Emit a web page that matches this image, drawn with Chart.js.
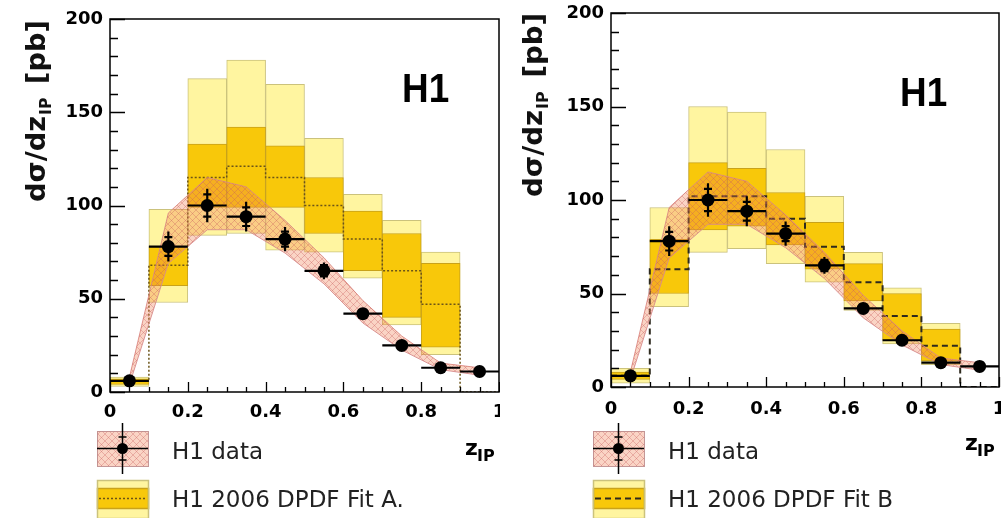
<!DOCTYPE html>
<html>
<head>
<meta charset="utf-8">
<script src="https://cdn.jsdelivr.net/npm/chart.js@4.4.1/dist/chart.umd.min.js"></script>
<style>
  html, body { margin: 0; padding: 0; background: #fff; }
  body { width: 1001px; height: 518px; position: relative; overflow: hidden; }
  canvas { position: absolute; top: 0; }
  #chartA { left: 0; }
  #chartB { left: 500px; }
</style>
</head>
<body>
<canvas id="chartA" width="500" height="518"></canvas>
<canvas id="chartB" width="501" height="518"></canvas>
<script>
// z_IP bins
const binCentres = [0.05, 0.15, 0.25, 0.35, 0.45, 0.55, 0.65, 0.75, 0.85, 0.95];
const binWidth = 0.1;
const xTicks = [0, 0.2, 0.4, 0.6, 0.8, 1];
const yTicks = [0, 50, 100, 150, 200];

// H1 data points, errors and hatched band
const dataY = [6, 78, 100, 94, 82, 65, 42, 25, 13, 11];
const dataErrTot = [1.5, 8, 9, 8, 6.5, 4.5, 3, 2, 2, 2.5];
const dataErrStat = [1, 5, 6, 5, 4, 3, 2, 1.5, 1.5, 2];
const bandHi = [8, 96, 115, 110, 92, 72, 49, 30, 15.5, 13];
const bandLo = [4, 69, 87, 87, 74.5, 58, 37, 22.5, 12, 9];

// H1 2006 DPDF Fit A
const fitAOuterLo = [3, 48, 84, 85, 76, 75, 61, 36, 20, null];
const fitAOuterHi = [8, 98, 168, 178, 165, 136, 106, 92, 75, null];
const fitAInnerLo = [4, 57, 99, 99, 99, 85, 65, 40, 24, null];
const fitAInnerHi = [7, 78, 133, 142, 132, 115, 97, 85, 69, null];
const fitACentral = [6, 68, 115, 121, 115, 100, 82, 65, 47, 0];

// H1 2006 DPDF Fit B
const fitBOuterLo = [2, 43, 72, 74, 66, 56, 41, 23, 12, null];
const fitBOuterHi = [10, 96, 150, 147, 127, 102, 72, 53, 34, null];
const fitBInnerLo = [4, 50, 84, 86, 76, 63, 46, 25, 14, null];
const fitBInnerHi = [8, 79, 120, 117, 104, 88, 66, 50, 31, null];
const fitBCentral = [6, 63, 102, 102, 90, 75, 56, 38, 22, 0];

const lightYellow = '#fff5a0';
const lightEdge = '#cbc27c';
const gold = '#f8c80a';
const goldEdge = '#c9a21a';

function hatchPattern(ctx) {
  const c = document.createElement('canvas');
  c.width = 7; c.height = 7;
  const p = c.getContext('2d');
  p.fillStyle = 'rgba(240,125,80,0.33)';
  p.fillRect(0, 0, 7, 7);
  p.strokeStyle = 'rgba(200,95,95,0.35)';
  p.lineWidth = 1;
  p.beginPath();
  p.moveTo(0, 0); p.lineTo(7, 7);
  p.moveTo(7, 0); p.lineTo(0, 7);
  p.stroke();
  return ctx.createPattern(c, 'repeat');
}

function floating(lo, hi) {
  return binCentres.map((x, i) => ({ x, y: [lo[i], hi[i]] })).filter(d => d.y[0] !== null);
}

// histogram outline: one point per bin low edge plus the last high edge
function stepLine(vals) {
  const pts = binCentres.map((x, i) => ({ x: x - binWidth / 2, y: vals[i] }));
  pts.push({ x: binCentres[binCentres.length - 1] + binWidth / 2, y: vals[vals.length - 1] });
  return pts;
}

function makePanel(id, fit, cfg) {
  const canvas = document.getElementById(id);
  const ctx = canvas.getContext('2d');
  const hatch = hatchPattern(ctx);

  const decor = {
    id: 'decor_' + id,
    beforeDatasetDraw(chart, args) {
      const ds = chart.data.datasets[args.index];
      if (!ds.isData) return;
      const { x, y } = chart.scales;
      const c = chart.ctx;
      c.save();
      c.strokeStyle = '#000';
      c.lineWidth = 2.2;
      c.beginPath();
      binCentres.forEach((bc, i) => {
        const px = x.getPixelForValue(bc);
        const py = y.getPixelForValue(dataY[i]);
        c.moveTo(x.getPixelForValue(bc - binWidth / 2), py);
        c.lineTo(x.getPixelForValue(bc + binWidth / 2), py);
        c.moveTo(px, y.getPixelForValue(dataY[i] - dataErrTot[i]));
        c.lineTo(px, y.getPixelForValue(dataY[i] + dataErrTot[i]));
        [dataY[i] - dataErrStat[i], dataY[i] + dataErrStat[i]].forEach(v => {
          const cy = y.getPixelForValue(v);
          c.moveTo(px - 4, cy); c.lineTo(px + 4, cy);
        });
      });
      c.stroke();
      c.restore();
    },
    afterDraw(chart) {
      const c = chart.ctx;
      const a = chart.chartArea;
      const { x, y } = chart.scales;
      c.save();
      // inner ticks
      c.strokeStyle = '#000';
      c.lineWidth = 1.3;
      c.beginPath();
      for (let v = 0; v <= 200; v += 10) {
        const py = Math.round(y.getPixelForValue(v)) + 0.5;
        const len = v % 50 === 0 ? 15 : 8;
        c.moveTo(a.left, py); c.lineTo(a.left + len, py);
      }
      for (let k = 0; k <= 20; k++) {
        const v = k * 0.05;
        const px = Math.round(x.getPixelForValue(v)) + 0.5;
        const len = k % 4 === 0 ? 10 : 5;
        c.moveTo(px, a.bottom); c.lineTo(px, a.bottom - len);
      }
      c.stroke();
      // frame
      c.lineWidth = 1.5;
      c.strokeRect(a.left, a.top, a.right - a.left, a.bottom - a.top);

      // H1 label
      c.fillStyle = '#000';
      c.font = 'bold 41px "Liberation Sans"';
      c.save();
      c.translate(cfg.h1x, cfg.h1y);
      c.scale(0.9, 1);
      c.fillText('H1', 0, 0);
      c.restore();

      // z_IP axis title
      c.font = 'bold 22px "DejaVu Sans"';
      c.fillText('z', cfg.zx, cfg.zy);
      c.font = 'bold 16px "DejaVu Sans"';
      c.fillText('IP', cfg.zx + 12, cfg.zy + 6);

      // y axis title
      c.save();
      c.translate(cfg.ytx, cfg.yty);
      c.rotate(-Math.PI / 2);
      c.font = 'bold 26px "DejaVu Sans"';
      const wMain = c.measureText('dσ/dz').width;
      const wUnit = c.measureText('[pb]').width;
      c.font = 'bold 15px "DejaVu Sans"';
      const wSub = c.measureText('IP').width;
      const gap = 13;
      const total = wMain + 1 + wSub + gap + wUnit;
      c.scale(cfg.ytLen / total, 1);
      c.fillStyle = '#111';
      c.font = 'bold 26px "DejaVu Sans"';
      c.fillText('dσ/dz', 0, 0);
      c.fillText('[pb]', wMain + 1 + wSub + gap, 0);
      c.font = 'bold 15px "DejaVu Sans"';
      c.fillText('IP', wMain + 1, 6);
      c.restore();

      // legend
      const lx = cfg.lx, bw = 51;
      c.fillStyle = '#fff';
      c.fillRect(lx, 431, bw, 35);
      c.fillStyle = hatch;
      c.fillRect(lx, 431, bw, 35);
      c.strokeStyle = 'rgba(190,140,140,0.9)';
      c.lineWidth = 1;
      c.strokeRect(lx + 0.5, 431.5, bw, 35);
      const cx = lx + bw / 2;
      c.strokeStyle = '#000';
      c.lineWidth = 1.5;
      c.beginPath();
      c.moveTo(lx, 448.5); c.lineTo(lx + bw, 448.5);
      c.moveTo(cx, 423); c.lineTo(cx, 474);
      c.moveTo(cx - 4, 437); c.lineTo(cx + 4, 437);
      c.moveTo(cx - 4, 460); c.lineTo(cx + 4, 460);
      c.stroke();
      c.beginPath();
      c.arc(cx, 448.5, 5.5, 0, Math.PI * 2);
      c.fillStyle = '#000';
      c.fill();

      c.fillStyle = lightYellow;
      c.fillRect(lx, 480, bw, 38);
      c.fillStyle = gold;
      c.fillRect(lx, 488, bw, 20);
      c.strokeStyle = goldEdge;
      c.strokeRect(lx + 0.5, 488.5, bw, 20);
      c.strokeStyle = lightEdge;
      c.strokeRect(lx + 0.5, 480.5, bw, 38);
      c.strokeStyle = cfg.lineColor;
      c.lineWidth = cfg.lineWidth;
      c.setLineDash(cfg.dash);
      c.beginPath();
      c.moveTo(lx + 2, 498.5); c.lineTo(lx + bw - 1, 498.5);
      c.stroke();
      c.setLineDash([]);

      c.fillStyle = '#222';
      c.font = '23px "DejaVu Sans"';
      c.fillText('H1 data', lx + 75, 459);
      c.fillText(cfg.fitLabel, lx + 75, 507);
      c.restore();
    }
  };

  const tickFont = { family: 'DejaVu Sans', weight: 'bold', size: 18 };

  new Chart(ctx, {
    type: 'bar',
    data: {
      datasets: [
        {
          type: 'bar', data: floating(fit.outerLo, fit.outerHi),
          backgroundColor: lightYellow, borderColor: lightEdge, borderWidth: 1,
          borderSkipped: false, grouped: false, barPercentage: 1, categoryPercentage: 1, order: 6
        },
        {
          type: 'bar', data: floating(fit.innerLo, fit.innerHi),
          backgroundColor: gold, borderColor: goldEdge, borderWidth: 1,
          borderSkipped: false, grouped: false, barPercentage: 1, categoryPercentage: 1, order: 5
        },
        {
          type: 'line', data: stepLine(fit.central), stepped: 'before',
          borderColor: cfg.lineColor, borderWidth: cfg.lineWidth, borderDash: cfg.dash,
          pointRadius: 0, fill: false, order: 4
        },
        {
          type: 'line', data: binCentres.map((x, i) => ({ x, y: bandHi[i] })),
          borderColor: 'rgba(215,140,140,0.9)', borderWidth: 1, pointRadius: 0,
          fill: false, order: 3
        },
        {
          type: 'line', data: binCentres.map((x, i) => ({ x, y: bandLo[i] })),
          borderColor: 'rgba(215,140,140,0.9)', borderWidth: 1, pointRadius: 0,
          backgroundColor: hatch, fill: '-1', order: 2
        },
        {
          type: 'scatter', isData: true, data: binCentres.map((x, i) => ({ x, y: dataY[i] })),
          pointRadius: 6.5, pointBackgroundColor: '#000', pointBorderWidth: 0, order: 1
        }
      ]
    },
    options: {
      responsive: false,
      animation: false,
      layout: { padding: cfg.padding, autoPadding: false },
      plugins: { legend: { display: false }, tooltip: { enabled: false } },
      scales: {
        x: {
          type: 'linear', min: 0, max: 1, offset: false,
          afterBuildTicks: s => { s.ticks = xTicks.map(v => ({ value: v })); },
          afterFit: s => { s.height = 40; s.paddingLeft = 0; s.paddingRight = 0; },
          ticks: { font: tickFont, color: '#000', padding: cfg.xPad, maxRotation: 0, autoSkip: false,
                   callback: v => String(v) },
          grid: { display: false, drawTicks: false, offset: false },
          border: { display: false }
        },
        y: {
          type: 'linear', min: 0, max: 200,
          afterBuildTicks: s => { s.ticks = yTicks.map(v => ({ value: v })); },
          afterFit: s => { s.width = cfg.yWidth; s.paddingTop = 0; s.paddingBottom = 0; },
          ticks: { font: tickFont, color: '#000', padding: 7, callback: v => String(v) },
          grid: { display: false, drawTicks: false },
          border: { display: false }
        }
      }
    },
    plugins: [decor]
  });
}

makePanel('chartA', {
  outerLo: fitAOuterLo, outerHi: fitAOuterHi,
  innerLo: fitAInnerLo, innerHi: fitAInnerHi, central: fitACentral
}, {
  padding: { top: 19, left: 0, right: 1, bottom: 86 },
  yWidth: 110, xPad: 10,
  h1x: 402, h1y: 102, zx: 465, zy: 455,
  ytx: 45, yty: 202, ytLen: 182,
  lx: 97, fitLabel: 'H1 2006 DPDF Fit A.',
  lineColor: '#6b5418', lineWidth: 1.5, dash: [2, 2]
});

makePanel('chartB', {
  outerLo: fitBOuterLo, outerHi: fitBOuterHi,
  innerLo: fitBInnerLo, innerHi: fitBInnerHi, central: fitBCentral
}, {
  padding: { top: 13, left: 0, right: 2, bottom: 91 },
  yWidth: 111, xPad: 12,
  h1x: 400, h1y: 106, zx: 465, zy: 450,
  ytx: 42, yty: 197, ytLen: 184,
  lx: 93, fitLabel: 'H1 2006 DPDF Fit B',
  lineColor: '#2e2a1e', lineWidth: 2, dash: [6, 4]
});
</script>
</body>
</html>
